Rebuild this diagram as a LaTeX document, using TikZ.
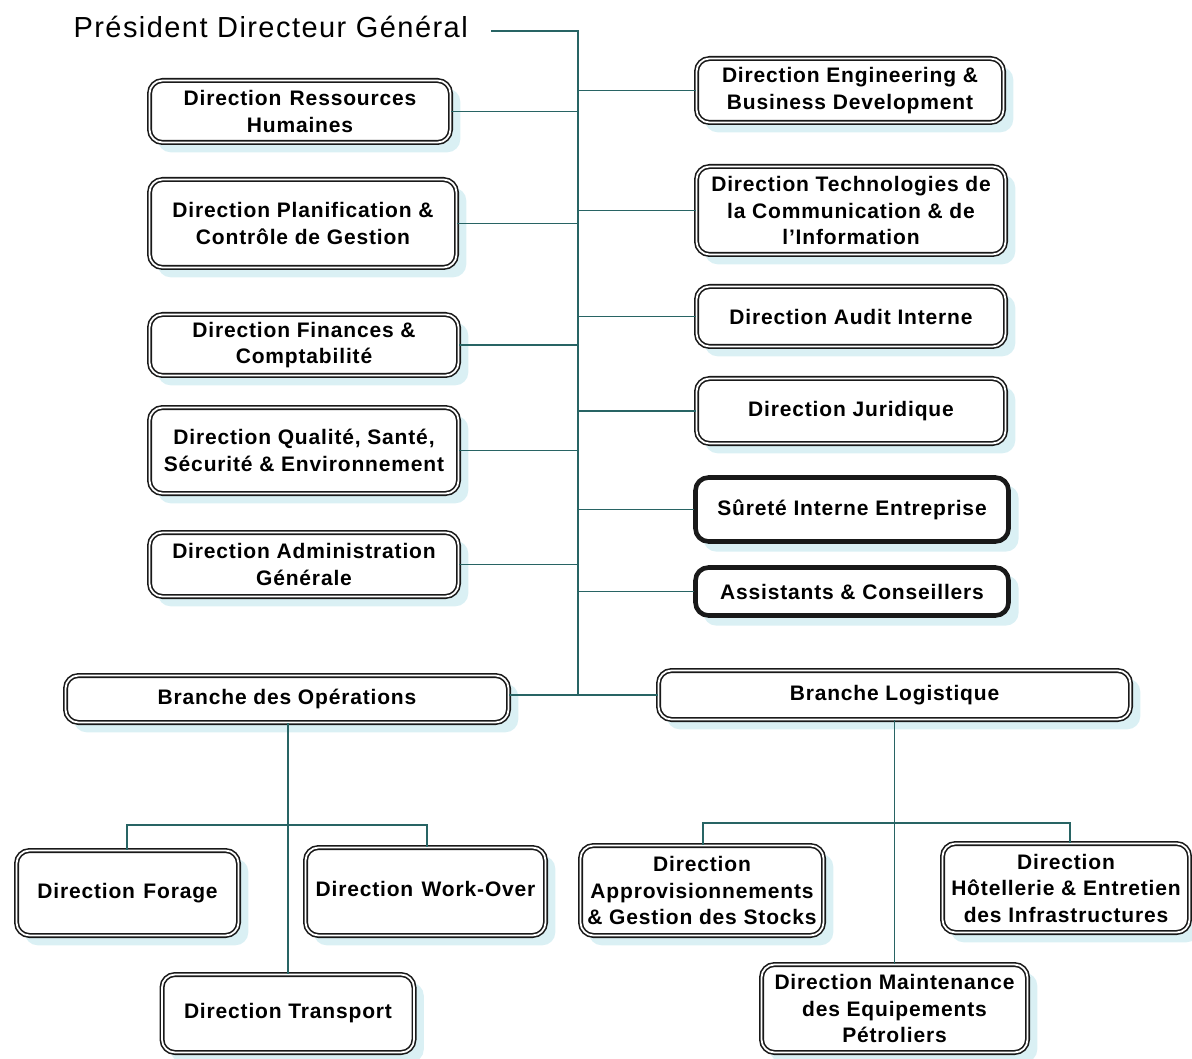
\documentclass[tikz,border=0pt]{standalone}
\usepackage{fontspec}
\setmainfont{Liberation Sans}
\usetikzlibrary{backgrounds}
\definecolor{linkcol}{RGB}{40,100,100}
\definecolor{edgecol}{RGB}{25,25,25}
\definecolor{shadecol}{RGB}{218,240,244}
\begin{document}
\begin{tikzpicture}[x=1pt,y=-1pt,
  unit/.style={draw=edgecol, double=white, line width=1.6pt, double distance=1.8pt,
    rounded corners=13pt, fill=white, align=center, inner sep=0pt,
    font=\fontsize{21}{26.5}\selectfont\bfseries\addfontfeature{LetterSpace=4}},
  plainunit/.style={unit, double=none, line width=2.3pt, double distance=0pt},
  link/.style={draw=linkcol, line width=1.8pt},
  shade/.style={fill=shadecol, rounded corners=13pt}]
\useasboundingbox (0,0) rectangle (1192,1059);

% head of the organisation
\node[anchor=west, font=\fontsize{29}{34}\selectfont\addfontfeature{LetterSpace=5}] (pdg) at (70,27) {Président Directeur Général};

% directions on the left of the spine
\node[unit, minimum width=301, minimum height=62] (hr) at (300,111.5) {Direction\hspace{.4em}Ressources\\Humaines};
\node[unit, minimum width=307, minimum height=88] (plan) at (303,223.5) {Direction Planification \&\\Contrôle de Gestion};
\node[unit, minimum width=309, minimum height=61] (fin) at (304,345) {Direction Finances \&\\Comptabilité};
\node[unit, minimum width=309, minimum height=86] (qse) at (304,450.5) {Direction Qualité, Santé,\\Sécurité \& Environnement};
\node[unit, minimum width=309, minimum height=64] (adm) at (304,564.5) {Direction Administration\\Générale};

% directions on the right of the spine
\node[unit, minimum width=307, minimum height=64] (eng) at (850,90.5) {Direction Engineering \&\\Business Development};
\node[unit, minimum width=309, minimum height=88] (tic) at (851,210.5) {Direction Technologies de\\la Communication \& de\\l’Information};
\node[unit, minimum width=309, minimum height=60] (aud) at (851,316.5) {Direction Audit Interne};
\node[unit, minimum width=309, minimum height=65] (jur) at (851,411) {Direction Juridique};
\node[plainunit, minimum width=313, minimum height=64] (sur) at (852,509.5) {Sûreté Interne Entreprise};
\node[plainunit, minimum width=313, minimum height=48] (ass) at (852,591.5) {Assistants \& Conseillers};

% branches
\node[unit, minimum width=443, minimum height=47] (ops) at (287,699) {Branche des Opérations};
\node[unit, minimum width=472, minimum height=49] (log) at (894.5,695) {Branche Logistique};

% operations directions
\node[unit, minimum width=222, minimum height=85] (for) at (127.5,893) {Direction\hspace{.4em}Forage};
\node[unit, minimum width=240, minimum height=88] (wo) at (425.5,891.5) {\raisebox{5pt}{Direction\hspace{.4em}Work-Over}};
\node[unit, minimum width=252, minimum height=78] (tra) at (288,1013.5) {Direction Transport};

% logistics directions
\node[unit, minimum width=243, minimum height=90] (app) at (702,890.5) {Direction\\Approvisionnements\\\& Gestion des Stocks};
\node[unit, minimum width=247, minimum height=89] (hot) at (1066,888) {Direction\\Hôtellerie \& Entretien\\des Infrastructures};
\node[unit, minimum width=266, minimum height=88] (mnt) at (894.5,1008.5) {Direction Maintenance\\des Equipements\\Pétroliers};

% soft shadows behind every box
\begin{scope}[on background layer]
  \foreach \n in {hr,plan,fin,qse,adm,eng,tic,aud,jur,sur,ass,ops,log,for,wo,tra,app,hot,mnt}
    \fill[shade] ([shift={(9,9)}]\n.north west) rectangle ([shift={(9,9)}]\n.south east);
\end{scope}

% spine
\coordinate (top) at (578,31);
\coordinate (bot) at (578,695);
\draw[link] ([xshift=20pt]pdg.east |- top) -- (top) -- (bot);

% links to the spine
\foreach \n in {hr,plan,fin,qse,adm}
  \draw[link] (\n.east) -- (\n.east -| top);
\foreach \n in {eng,tic,aud,jur,sur,ass}
  \draw[link] (\n.west) -- (\n.west -| top);
\draw[link] (log.west) -- (log.west -| ops.east);

% operations subtree
\coordinate (opsbar) at (288,825);
\draw[link] (tra.north) -- (tra.north |- ops.south);
\draw[link] ([xshift=-0.5pt]for.north) |- ([xshift=1.5pt]wo.north |- opsbar) -- ([xshift=1.5pt]wo.north);

% logistics subtree
\coordinate (logbar) at (894.5,823);
\draw[link] (mnt.north) -- (mnt.north |- log.south);
\draw[link] ([xshift=1pt]app.north) |- ([xshift=4pt]hot.north |- logbar) -- ([xshift=4pt]hot.north);
\end{tikzpicture}
\end{document}
